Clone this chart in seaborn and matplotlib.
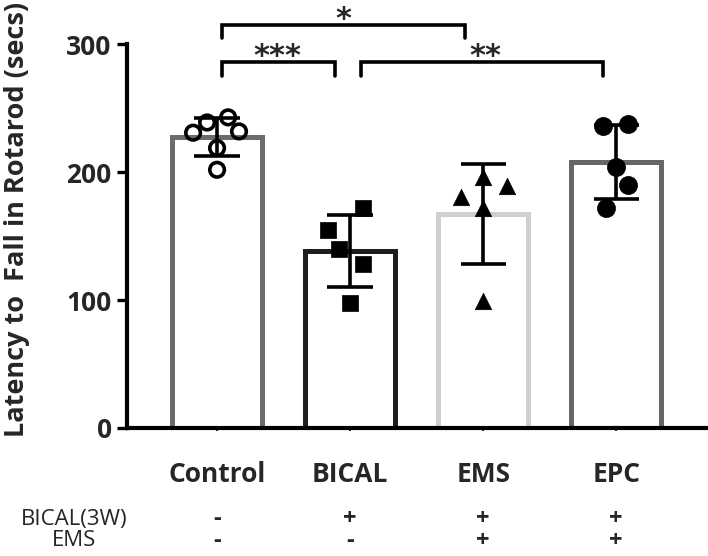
import numpy as np
import pandas as pd
import matplotlib
matplotlib.use("Agg")
import matplotlib.pyplot as plt
import seaborn as sns

# ---- data ----
categories = ["Control", "BICAL", "EMS", "EPC"]
control_vals = [231, 239, 243, 232, 219, 202]
bical_vals = [172, 155, 140, 128, 98]
ems_vals = [196, 181, 189, 172, 99]
epc_vals = [236, 238, 204, 190, 172]
yticks = [0, 100, 200, 300]
row_labels = ["BICAL(3W)", "EMS"]
bical3w_signs = ["-", "+", "+", "+"]
ems_signs = ["-", "-", "+", "+"]
sig_labels = ["*", "***", "**"]

# ---- layout / style (not data) ----
x_offsets = [
    [-0.18, -0.075, 0.083, 0.165, 0.0, 0.0],
    [0.10, -0.165, -0.083, 0.10, 0.0],
    [0.0, -0.17, 0.18, 0.0, 0.0],
    [-0.10, 0.09, 0.0, 0.09, -0.08],
]
edge_colors = ["#6b6b6b", "#1f1f1f", "#cfcfcf", "#666666"]
markers = ["o", "s", "^", "o"]
marker_sizes = [110, 140, 140, 170]

all_vals = [control_vals, bical_vals, ems_vals, epc_vals]
rows = []
for cat, vals in zip(categories, all_vals):
    for v in vals:
        rows.append({"group": cat, "value": v})
df = pd.DataFrame(rows)

sns.set_style("ticks")
plt.rcParams["font.family"] = ["Open Sans", "DejaVu Sans"]

fig = plt.figure(figsize=(7.08, 5.56), dpi=100)
ax = fig.add_axes([127 / 708, 1 - 428 / 556, 581 / 708, (428 - 44.5) / 556])

sns.barplot(data=df, x="group", y="value", hue="group", order=categories,
            hue_order=categories, palette=edge_colors, fill=False,
            errorbar="sd", capsize=0.34, width=0.68, linewidth=3.6,
            err_kws={"color": "black", "linewidth": 2.6}, legend=False, ax=ax)
for ln in ax.lines:
    ln.set_zorder(6)
    ln.set_solid_capstyle("butt")

for i, (vals, offs) in enumerate(zip(all_vals, x_offsets)):
    xs = [i + o for o in offs]
    if i == 0:
        sns.scatterplot(x=xs, y=vals, marker="o", s=marker_sizes[i],
                        facecolor="none", edgecolor="black", linewidth=2.6,
                        ax=ax, zorder=5)
    else:
        sns.scatterplot(x=xs, y=vals, marker=markers[i], s=marker_sizes[i],
                        color="black", edgecolor="black", linewidth=0.5,
                        ax=ax, zorder=5)

ax.set_xlim(-0.677, 3.69)
ax.set_ylim(0, 300)
ax.set_yticks(yticks)
ax.set_yticklabels([str(t) for t in yticks], fontsize=19, fontweight="bold")
ax.set_xticks(range(len(categories)))
ax.set_xticklabels(categories, fontsize=19, fontweight="bold")
ax.tick_params(axis="y", length=7, width=2.4, pad=4, color="black")
ax.tick_params(axis="x", length=2, width=1.2, pad=22, color="black")
ax.set_xlabel("")
ax.set_ylabel("Latency to  Fall in Rotarod (secs)", fontsize=19.5,
              fontweight="bold")
ax.yaxis.set_label_coords(-0.19, 0.545)
ax.yaxis.label.set_va("center")
sns.despine(ax=ax)
for sp in ["left", "bottom"]:
    ax.spines[sp].set_linewidth(3.0)
    ax.spines[sp].set_color("black")
    ax.spines[sp].set_zorder(7)

# significance brackets
def bracket(x1, x2, y_top, y_bot, label, tx, ty):
    ax.plot([x1, x1, x2, x2], [y_bot, y_top, y_top, y_bot], color="black",
            lw=2.6, clip_on=False, solid_joinstyle="miter", zorder=8)
    ax.text(tx, ty, label, ha="center", va="baseline", fontsize=22,
            fontweight="bold", family="DejaVu Sans", clip_on=False)

bracket(0.04, 1.86, 315, 305, sig_labels[0], 0.95, 313)
bracket(0.04, 0.89, 286, 275, sig_labels[1], 0.45, 284)
bracket(1.08, 2.90, 286, 275, sig_labels[2], 2.02, 284)

# treatment table below
row_y = [1 - 519 / 556, 1 - 541 / 556]
fig.text(74 / 708, row_y[0], row_labels[0], ha="center", va="center", fontsize=16)
fig.text(74 / 708, row_y[1], row_labels[1], ha="center", va="center", fontsize=16)
for i in range(len(categories)):
    xf = ax.transData.transform((i, 0))[0] / fig.bbox.width
    fig.text(xf, row_y[0], bical3w_signs[i], ha="center", va="center",
             fontsize=17, fontweight="bold")
    fig.text(xf, row_y[1], ems_signs[i], ha="center", va="center",
             fontsize=17, fontweight="bold")

fig.savefig("out.png", dpi=100)
